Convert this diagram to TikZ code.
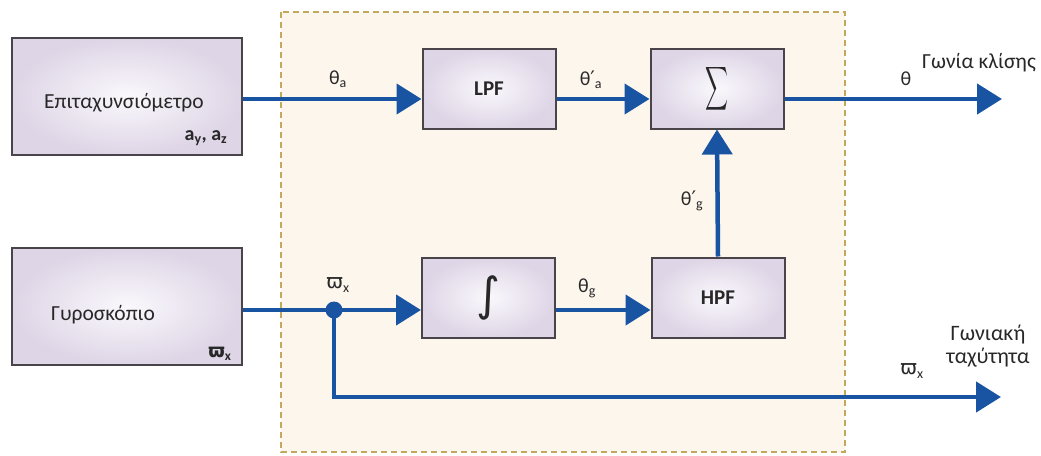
\documentclass[tikz,border=0pt]{standalone}
\usepackage{fontspec}
\usepackage{graphicx}
\setmainfont{Carlito}
\newfontfamily\djv{DejaVu Sans}
\usetikzlibrary{arrows.meta,shadings,calc}
\definecolor{lineblue}{RGB}{24,84,162}
\definecolor{boxedge}{RGB}{72,68,74}
\definecolor{boxlav}{RGB}{222,213,230}
\definecolor{boxin}{RGB}{250,248,252}
\definecolor{cream}{RGB}{253,246,237}
\definecolor{dashgold}{RGB}{196,168,92}
\definecolor{txt}{RGB}{40,40,40}
\newcommand{\pr}{{\djv ′}}
\newcommand{\vpi}{{\djv ϖ}}
\tikzset{
  blk/.style={draw=boxedge, line width=2pt, inner color=boxin, outer color=boxlav,
    minimum width=133pt, minimum height=80pt, inner sep=0pt},
  sensor/.style={draw=boxedge, line width=2.2pt, inner color=boxin, outer color=boxlav,
    minimum width=230pt, minimum height=117pt, inner sep=0pt},
  flow/.style={draw=lineblue, line width=4.5pt,
    -{Triangle[length=25pt,width=30pt]}, color=lineblue},
  plain/.style={draw=lineblue, line width=4.5pt},
  lbl/.style={text=txt, font=\fontsize{20}{24}\selectfont, inner sep=0pt},
  big/.style={text=txt, font=\fontsize{21.5}{25}\selectfont, inner sep=0pt},
  bold/.style={text=txt, font=\fontsize{21}{25}\selectfont\bfseries, inner sep=0pt},
}
\begin{document}
\begin{tikzpicture}[x=1pt,y=-1pt]
\useasboundingbox (0,0) rectangle (1041,455);
\fill[white] (0,0) rectangle (1041,455);
% dashed region
\draw[dashgold, line width=1.6pt, dash pattern=on 6pt off 4pt, fill=cream] (281,12) rectangle (845,452);

% blocks
\node[sensor] (acc) at (127,96.5) {};
\node[sensor] (gyr) at (127,306.5) {};
\node[blk] (lpf) at (489,88.5) {};
\node[blk] (sum) at (717,88.5) {};
\node[blk] (int) at (488.5,297.5) {};
\node[blk] (hpf) at (718,297.5) {};

% block texts
\node[big] at (124,103) {Επιταχυνσιόμετρο};
\node[bold, font=\fontsize{20}{24}\selectfont\bfseries] at (206,138) {a\textsubscript{y}, a\textsubscript{z}};
\node[big] at (103,315) {Γυροσκόπιο};
\node[bold, font=\fontsize{19}{24}\selectfont\bfseries] at (220,354) {\vpi\textsubscript{x}};
\node[bold] at (lpf.center) {LPF};
\node[bold] at (hpf.center) {HPF};
\node[text=txt, inner sep=0pt] at (sum.center) {\resizebox{23pt}{32pt}{$\displaystyle\sum$}};
\node[text=txt, inner sep=0pt, font=\fontsize{46}{50}\selectfont] at (int.center) {\djv ∫};

% rows
\coordinate (r1) at (0,99);
\coordinate (r2) at (0,310);
\coordinate (dot) at (334,310);
\coordinate (corner) at (334,397);
\coordinate (out1) at (1002,99);
\coordinate (out2) at (1001,397);

% connectors
\draw[flow] (acc.east |- r1) -- (lpf.west |- r1);
\draw[flow] (lpf.east |- r1) -- (sum.west |- r1);
\draw[flow] (sum.east |- r1) -- (out1);
\draw[plain] (gyr.east |- r2) -- (dot);
\draw[flow] (dot) -- (int.west |- r2);
\draw[flow] (int.east |- r2) -- (hpf.west |- r2);
\draw[flow] (hpf.north) -- (sum.south);
\draw[flow] (dot) -- (corner) -- (out2);
\fill[lineblue] (dot) circle (8.5pt);

% labels
\node[lbl] at (338,79) {θ\textsubscript{a}};
\node[lbl] at (591,80) {θ\pr\textsubscript{a}};
\node[lbl] at (906,79) {θ};
\node[lbl] at (587,288) {θ\textsubscript{g}};
\node[lbl] at (692,201) {θ\pr\textsubscript{g}};
\node[lbl] at (338,285) {\vpi\textsubscript{x}};
\node[lbl] at (912,371) {\vpi\textsubscript{x}};
\node[big, anchor=west] at (922,63) {Γωνία κλίσης};
\node[big, align=center, font=\fontsize{22}{26}\selectfont] at (988,346) {Γωνιακή\\[-3pt]ταχύτητα};
\end{tikzpicture}
\end{document}
